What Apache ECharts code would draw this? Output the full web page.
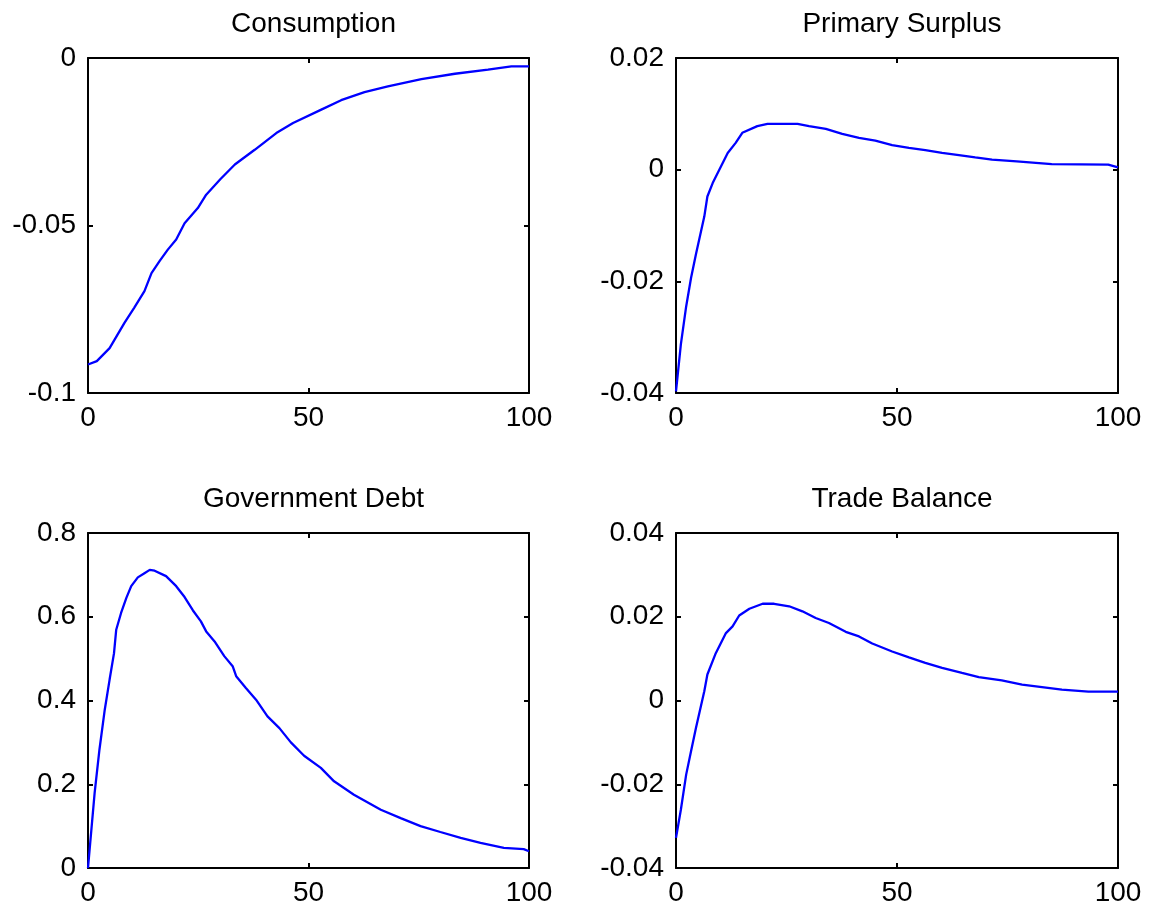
<!DOCTYPE html>
<html><head><meta charset="utf-8">
<script src="https://cdn.jsdelivr.net/npm/echarts@6/dist/echarts.min.js"></script>
<style>html,body{margin:0;padding:0;background:#fff}#c{width:1157px;height:912px}</style>
</head><body><div id="c"></div>
<script>
const titles = ["Consumption", "Primary Surplus", "Government Debt", "Trade Balance"];
const xTicks = [0, 50, 100];

const consX = [0, 2, 4.9, 8.3, 10.5, 12.8, 14.4, 16.3, 18.1, 20, 21.9, 24.9, 26.8, 30, 33.3, 37.8, 42.7, 46.5, 52.9, 57.4, 62.7, 68, 75.6, 83.2, 90.7, 96, 100];
const consY = [-0.0915, -0.0905, -0.0866, -0.079, -0.0745, -0.0696, -0.0642, -0.0605, -0.0572, -0.0542, -0.0493, -0.0448, -0.0408, -0.0362, -0.0318, -0.0274, -0.0224, -0.0194, -0.0154, -0.0126, -0.0102, -0.0085, -0.0063, -0.0047, -0.0035, -0.0025, -0.0025];

const psX = [0, 1.1, 2.3, 3.4, 4.5, 6.4, 7.1, 8.3, 9.8, 11.7, 13.5, 15, 18.4, 20.7, 27.5, 30.1, 33.9, 37.6, 41.4, 45.1, 48.9, 52.7, 56.4, 60.2, 64, 67.7, 71.5, 77.1, 85, 97.8, 100];
const psY = [-0.0397, -0.0313, -0.0245, -0.0194, -0.0152, -0.0084, -0.0048, -0.0024, 0.0000, 0.0030, 0.0048, 0.0066, 0.0078, 0.0082, 0.0082, 0.0078, 0.0073, 0.0064, 0.0057, 0.0052, 0.0044, 0.0039, 0.0035, 0.0030, 0.0026, 0.0022, 0.0018, 0.0015, 0.0010, 0.0009, 0.0004];

const gdX = [0, 1.5, 2.6, 3.8, 4.9, 5.9, 6.4, 7.5, 8.7, 9.8, 11.3, 12.8, 14, 15.1, 17.7, 20, 21.9, 23.8, 25.6, 26.8, 28.7, 30.9, 32.8, 33.6, 35.8, 38.1, 40.7, 43.4, 46, 49, 52.8, 55.8, 60.3, 66.4, 70.9, 75.4, 79.9, 84.5, 89, 94.3, 98.8, 100];
const gdY = [0, 0.179, 0.283, 0.378, 0.450, 0.513, 0.569, 0.609, 0.645, 0.673, 0.694, 0.704, 0.712, 0.710, 0.697, 0.673, 0.647, 0.615, 0.589, 0.565, 0.541, 0.506, 0.482, 0.458, 0.430, 0.402, 0.362, 0.334, 0.300, 0.268, 0.239, 0.207, 0.175, 0.139, 0.119, 0.100, 0.086, 0.072, 0.060, 0.048, 0.045, 0.040];

const tbX = [0, 1.1, 2.3, 3.4, 4.5, 6.4, 7.1, 9, 11.3, 12.8, 14.3, 16.6, 19.6, 22.2, 25.6, 28.6, 31.6, 34.6, 38.4, 41.4, 44.4, 48.9, 52.7, 56.4, 60.2, 64.7, 68.5, 73.7, 78.3, 82.8, 87.3, 93.3, 100];
const tbY = [-0.0328, -0.0261, -0.0177, -0.0121, -0.0066, 0.0022, 0.0062, 0.0113, 0.0161, 0.0177, 0.0203, 0.0219, 0.0231, 0.0231, 0.0225, 0.0213, 0.0197, 0.0185, 0.0164, 0.0153, 0.0136, 0.0117, 0.0103, 0.0090, 0.0078, 0.0066, 0.0056, 0.0048, 0.0038, 0.0032, 0.0026, 0.0021, 0.0021];

const yRanges = [[-0.1, 0, 0.05], [-0.04, 0.02, 0.02], [0, 0.8, 0.2], [-0.04, 0.04, 0.02]];
const seriesX = [consX, psX, gdX, tbX];
const seriesY = [consY, psY, gdY, tbY];

const grids = [
  {left: 88, top: 58, width: 441, height: 335},
  {left: 676, top: 58, width: 442, height: 335},
  {left: 88, top: 533, width: 441, height: 335},
  {left: 676, top: 533, width: 442, height: 335}
];
const FONT = "Liberation Sans";
const fmt = v => String(Number(v.toFixed(6)));
const lineStyle = {color: "#000", width: 2};
const xAxis = [], yAxis = [], series = [], title = [];
grids.forEach((g, i) => {
  title.push({text: titles[i], left: g.left + g.width / 2, top: g.top - 53, textAlign: "center",
    textStyle: {fontFamily: FONT, fontSize: 28, fontWeight: "normal", color: "#000"}});
  const base = {type: "value", gridIndex: i, min: 0, max: 100, interval: 50,
    axisLine: {show: true, onZero: false, lineStyle}, splitLine: {show: false},
    axisTick: {show: true, inside: true, length: 5, lineStyle}};
  xAxis.push(Object.assign({}, base, {position: "bottom",
    axisLabel: {fontFamily: FONT, fontSize: 28, color: "#000", margin: 11, formatter: v => xTicks.includes(v) ? fmt(v) : ""}}));
  xAxis.push(Object.assign({}, base, {position: "top", axisLabel: {show: false}}));
  const [mn, mx, iv] = yRanges[i];
  const ybase = {type: "value", gridIndex: i, min: mn, max: mx, interval: iv,
    axisLine: {show: true, onZero: false, lineStyle}, splitLine: {show: false},
    axisTick: {show: true, inside: true, length: 5, lineStyle}};
  yAxis.push(Object.assign({}, ybase, {position: "left",
    axisLabel: {fontFamily: FONT, fontSize: 28, color: "#000", margin: 12, formatter: fmt}}));
  yAxis.push(Object.assign({}, ybase, {position: "right", axisLabel: {show: false}}));
  series.push({type: "line", xAxisIndex: i * 2, yAxisIndex: i * 2, showSymbol: false, animation: false,
    lineStyle: {color: "#0000ff", width: 2.3}, clip: true,
    data: seriesX[i].map((x, k) => [x, seriesY[i][k]])});
});
const chart = echarts.init(document.getElementById("c"), null, {renderer: "canvas"});
chart.setOption({backgroundColor: "#fff", animation: false, title, grid: grids, xAxis, yAxis, series});
</script></body></html>
